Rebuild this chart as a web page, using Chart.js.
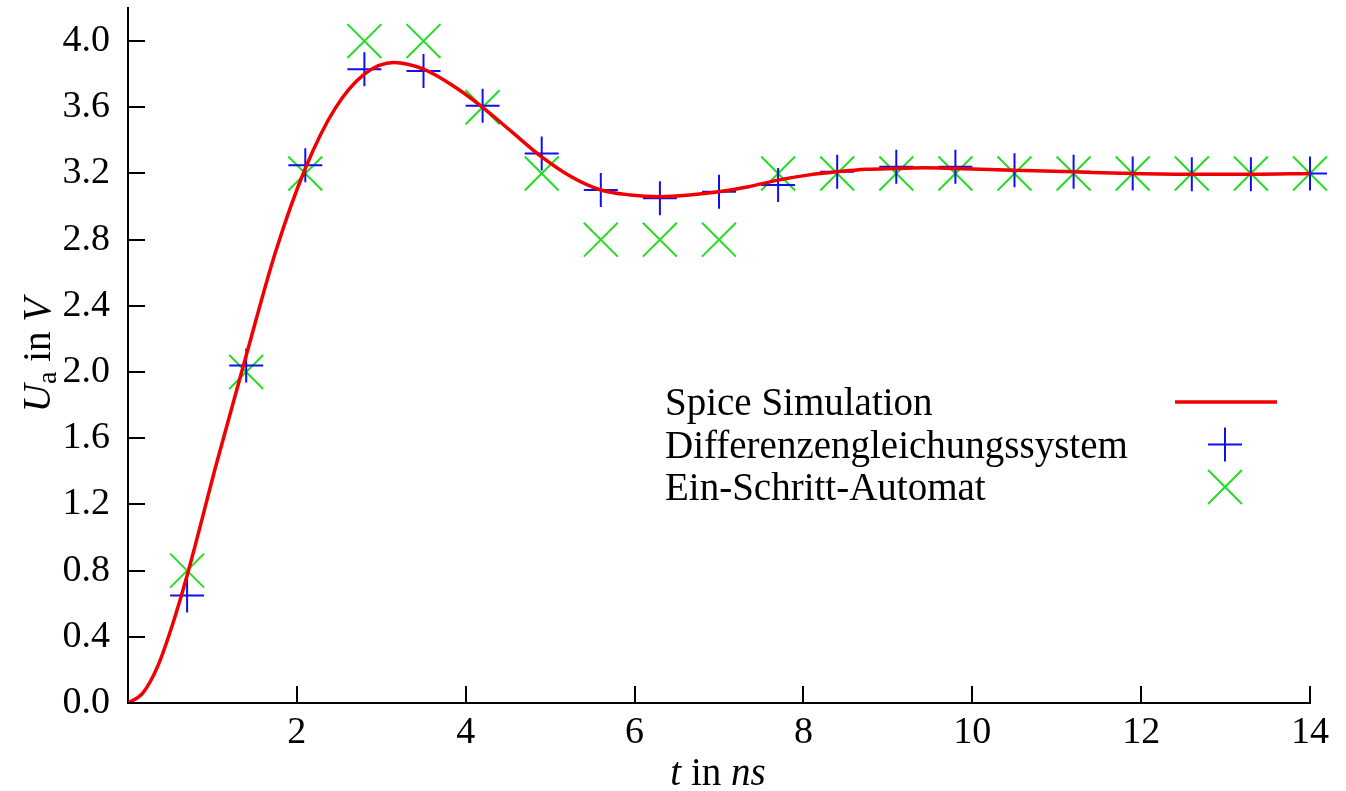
<!DOCTYPE html>
<html>
<head>
<meta charset="utf-8">
<script src="https://cdn.jsdelivr.net/npm/chart.js@4.4.1/dist/chart.umd.min.js"></script>
<style>
  html, body { margin: 0; padding: 0; background: #fff; }
  #wrap { width: 1346px; height: 791px; position: relative; }
</style>
</head>
<body>
<div id="wrap"><canvas id="myChart"></canvas></div>
<script>
// Spice Simulation (Kurve)
const spiceT = [0, 0.175, 0.35, 0.525, 0.7, 1.05, 1.4, 1.75, 2.1, 2.45, 2.8, 3.15, 3.5, 3.85, 4.2, 4.55, 4.9, 5.25, 5.6, 5.95, 6.3, 6.65, 7.0, 7.35, 7.7, 8.05, 8.4, 8.75, 9.1, 9.45, 9.8, 10.5, 11.2, 11.9, 12.6, 13.3, 14.0];
const spiceU = [0, 0.06, 0.22, 0.47, 0.77, 1.45, 2.10, 2.73, 3.23, 3.59, 3.80, 3.87, 3.83, 3.73, 3.60, 3.45, 3.30, 3.18, 3.10, 3.07, 3.06, 3.07, 3.09, 3.12, 3.16, 3.19, 3.21, 3.225, 3.23, 3.235, 3.23, 3.22, 3.21, 3.20, 3.195, 3.195, 3.20];

// Abtastzeitpunkte der beiden Verfahren
const sampleT = [0.7, 1.4, 2.1, 2.8, 3.5, 4.2, 4.9, 5.6, 6.3, 7.0, 7.7, 8.4, 9.1, 9.8, 10.5, 11.2, 11.9, 12.6, 13.3, 14.0];
const diffU = [0.65, 2.04, 3.25, 3.83, 3.82, 3.61, 3.32, 3.10, 3.05, 3.09, 3.13, 3.21, 3.24, 3.24, 3.22, 3.21, 3.20, 3.195, 3.195, 3.20];
const automatU = [0.8, 2.0, 3.2, 4.0, 4.0, 3.6, 3.2, 2.8, 2.8, 2.8, 3.2, 3.2, 3.2, 3.2, 3.2, 3.2, 3.2, 3.2, 3.2, 3.2];

const xTicks = [2, 4, 6, 8, 10, 12, 14];
const yTicks = [0.0, 0.4, 0.8, 1.2, 1.6, 2.0, 2.4, 2.8, 3.2, 3.6, 4.0];

const legendLabels = ['Spice Simulation', 'Differenzengleichungssystem', 'Ein-Schritt-Automat'];

const FONT = "'Liberation Serif', 'DejaVu Serif', serif";
const toXY = (xs, ys) => xs.map((x, i) => ({ x: x, y: ys[i] }));

// Tickstriche nach innen
const innerTicks = {
    id: 'innerTicks',
    afterDatasetsDraw(chart) {
        const { ctx, chartArea, scales } = chart;
        ctx.save();
        ctx.strokeStyle = '#000';
        ctx.lineWidth = 2;
        ctx.beginPath();
        for (const v of yTicks) {
            const y = Math.round(scales.y.getPixelForValue(v));
            ctx.moveTo(chartArea.left, y);
            ctx.lineTo(chartArea.left + 17, y);
        }
        for (const v of xTicks) {
            const x = Math.round(scales.x.getPixelForValue(v));
            ctx.moveTo(x, chartArea.bottom);
            ctx.lineTo(x, chartArea.bottom - 17);
        }
        ctx.stroke();
        ctx.restore();
    }
};

// Achsentitel mit gemischten Schriftschnitten
const drawPieces = (ctx, pieces, cx, baseY) => {
    let total = 0;
    for (const p of pieces) {
        ctx.font = p.font;
        p.w = ctx.measureText(p.text).width;
        total += p.w;
    }
    let x = cx - total / 2;
    for (const p of pieces) {
        ctx.font = p.font;
        ctx.fillText(p.text, x, baseY + (p.dy || 0));
        x += p.w;
    }
};

const axisTitles = {
    id: 'axisTitles',
    afterDraw(chart) {
        const ctx = chart.ctx;
        ctx.save();
        ctx.fillStyle = '#000';
        ctx.textBaseline = 'alphabetic';
        ctx.textAlign = 'left';
        drawPieces(ctx, [
            { text: 't', font: 'italic 39px ' + FONT },
            { text: ' in ', font: '39px ' + FONT },
            { text: 'ns', font: 'italic 39px ' + FONT }
        ], 718, 785);

        ctx.translate(50, 355);
        ctx.rotate(-Math.PI / 2);
        drawPieces(ctx, [
            { text: 'U', font: 'italic 39px ' + FONT },
            { text: 'a', font: '28px ' + FONT, dy: 6 },
            { text: ' in ', font: '39px ' + FONT },
            { text: 'V', font: 'italic 39px ' + FONT }
        ], 0, 0);
        ctx.restore();
    }
};

// Legende: Text links, Symbol rechts
const sideLegend = {
    id: 'sideLegend',
    afterDraw(chart) {
        const ctx = chart.ctx;
        const sets = chart.data.datasets;
        const rows = [402, 444.5, 487];
        ctx.save();
        ctx.fillStyle = '#000';
        ctx.font = '39px ' + FONT;
        ctx.textAlign = 'left';
        ctx.textBaseline = 'alphabetic';
        legendLabels.forEach((txt, i) => {
            ctx.fillText(txt, 665, rows[i] + 13);
        });
        // Linie
        ctx.strokeStyle = sets[0].borderColor;
        ctx.lineWidth = sets[0].borderWidth;
        ctx.beginPath();
        ctx.moveTo(1175, rows[0]);
        ctx.lineTo(1277, rows[0]);
        ctx.stroke();
        // Plus
        let r = sets[1].pointRadius;
        ctx.strokeStyle = sets[1].borderColor;
        ctx.lineWidth = sets[1].pointBorderWidth;
        ctx.beginPath();
        ctx.moveTo(1225 - r, rows[1]); ctx.lineTo(1225 + r, rows[1]);
        ctx.moveTo(1225, rows[1] - r); ctx.lineTo(1225, rows[1] + r);
        ctx.stroke();
        // Kreuz
        r = sets[2].pointRadius * Math.SQRT1_2;
        ctx.strokeStyle = sets[2].borderColor;
        ctx.lineWidth = sets[2].pointBorderWidth;
        ctx.beginPath();
        ctx.moveTo(1225 - r, rows[2] - r); ctx.lineTo(1225 + r, rows[2] + r);
        ctx.moveTo(1225 - r, rows[2] + r); ctx.lineTo(1225 + r, rows[2] - r);
        ctx.stroke();
        ctx.restore();
    }
};

new Chart(document.getElementById('myChart').getContext('2d'), {
    type: 'line',
    data: {
        datasets: [{
            label: legendLabels[0],
            data: toXY(spiceT, spiceU),
            borderColor: '#f00000',
            borderWidth: 3.5,
            pointRadius: 0,
            cubicInterpolationMode: 'monotone',
            fill: false
        }, {
            label: legendLabels[1],
            data: toXY(sampleT, diffU),
            showLine: false,
            pointStyle: 'cross',
            pointRadius: 17,
            pointBorderWidth: 2,
            borderColor: '#1010ee',
            backgroundColor: '#1010ee',
            clip: false
        }, {
            label: legendLabels[2],
            data: toXY(sampleT, automatU),
            showLine: false,
            pointStyle: 'crossRot',
            pointRadius: 24,
            pointBorderWidth: 2,
            borderColor: '#22dd22',
            backgroundColor: '#22dd22',
            clip: false
        }]
    },
    options: {
        responsive: true,
        maintainAspectRatio: false,
        animation: false,
        layout: { autoPadding: false, padding: { top: 8, right: 36, left: 0, bottom: 0 } },
        plugins: {
            legend: { display: false },
            tooltip: { enabled: false }
        },
        elements: { point: { hoverRadius: 0 } },
        scales: {
            x: {
                type: 'linear',
                min: 0,
                max: 14,
                afterBuildTicks: (scale) => { scale.ticks = xTicks.map(v => ({ value: v })); },
                afterFit: (scale) => { scale.height = 88; },
                grid: { display: false, drawTicks: false },
                border: { display: true, color: '#000', width: 2 },
                ticks: {
                    color: '#000',
                    font: { family: FONT, size: 38 },
                    padding: 7,
                    maxRotation: 0,
                    callback: (v) => String(v)
                }
            },
            y: {
                min: 0,
                max: 4.2,
                afterBuildTicks: (scale) => { scale.ticks = yTicks.map(v => ({ value: v })); },
                afterFit: (scale) => {
                    scale.width = 128;
                    scale.paddingTop = 0;
                    scale.paddingBottom = 0;
                },
                grid: { display: false, drawTicks: false },
                border: { display: true, color: '#000', width: 2 },
                ticks: {
                    color: '#000',
                    font: { family: FONT, size: 38 },
                    padding: 18,
                    callback: (v) => Number(v).toFixed(1)
                }
            }
        }
    },
    plugins: [innerTicks, axisTitles, sideLegend]
});
</script>
</body>
</html>
